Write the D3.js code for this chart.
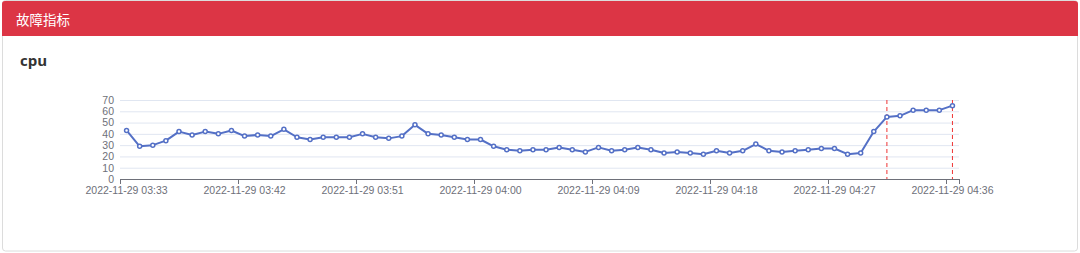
<!DOCTYPE html>
<html>
<head>
<meta charset="utf-8">
<script src="https://cdn.jsdelivr.net/npm/d3@7"></script>
<style>
  body { margin: 0; background: #fff; font-family: "Liberation Sans", Arial, sans-serif; }
</style>
</head>
<body>
<div id="chart"></div>
<script>
// categories (one per minute)
const times = [
  '03:33','03:34','03:35','03:36','03:37','03:38','03:39','03:40','03:41','03:42',
  '03:43','03:44','03:45','03:46','03:47','03:48','03:49','03:50','03:51','03:52',
  '03:53','03:54','03:55','03:56','03:57','03:58','03:59','04:00','04:01','04:02',
  '04:03','04:04','04:05','04:06','04:07','04:08','04:09','04:10','04:11','04:12',
  '04:13','04:14','04:15','04:16','04:17','04:18','04:19','04:20','04:21','04:22',
  '04:23','04:24','04:25','04:26','04:27','04:28','04:29','04:30','04:31','04:32',
  '04:33','04:34','04:35','04:36'
];
const categories = times.map(t => '2022-11-29 ' + t);

const cpuValues = [
  43, 29, 30, 34, 42, 39, 42, 40, 43, 38,
  39, 38, 44, 37, 35, 37, 37, 37, 40, 37,
  36, 38, 48, 40, 39, 37, 35, 35, 29, 26,
  25, 26, 26, 28, 26, 24, 28, 25, 26, 28,
  26, 23, 24, 23, 22, 25, 23, 25, 31, 25,
  24, 25, 26, 27, 27, 22, 23, 42, 55, 56,
  61, 61, 61, 65
];

const yTicks = [0, 10, 20, 30, 40, 50, 60, 70];
const markTimes = ['2022-11-29 04:31', '2022-11-29 04:36'];
const labelEvery = 9;

const width = 1080, height = 253;
const plot = { left: 120, right: 959, top: 100, bottom: 179 };

const svg = d3.select('#chart').append('svg')
  .attr('width', width)
  .attr('height', height);

// card
svg.append('rect')
  .attr('x', 2.5).attr('y', 0.5)
  .attr('width', 1075).attr('height', 250.5)
  .attr('rx', 3)
  .attr('fill', '#fff')
  .attr('stroke', '#dcdcdc');

svg.append('path')
  .attr('d', 'M2,36 V4 Q2,1 5,1 H1075 Q1078,1 1078,4 V36 Z')
  .attr('fill', '#dc3545');

svg.append('text')
  .attr('x', 16).attr('y', 24.5)
  .text('故障指标')
  .style('fill', '#fff')
  .style('font-family', '"Noto Sans CJK SC", sans-serif')
  .style('font-size', '13.5px');

svg.append('text')
  .attr('x', 20).attr('y', 66)
  .text('cpu')
  .style('fill', '#333')
  .style('font-family', '"Open Sans", "Noto Sans", sans-serif')
  .style('font-weight', 'bold')
  .style('font-size', '15px');

// scales
const xScale = d3.scaleBand()
  .domain(categories)
  .range([plot.left, plot.right])
  .padding(0);

const yScale = d3.scaleLinear()
  .domain([0, 70])
  .range([plot.bottom, plot.top]);

const xc = d => xScale(d) + xScale.bandwidth() / 2;

// grid
const yAxisGen = d3.axisLeft(yScale)
  .tickValues(yTicks)
  .tickSize(-(plot.right - plot.left))
  .tickPadding(6)
  .tickFormat(d3.format('d'));

const yAxis = svg.append('g')
  .attr('transform', `translate(${plot.left},0)`)
  .call(yAxisGen);
yAxis.select('.domain').remove();
yAxis.selectAll('line').attr('stroke', '#e0e6f1');
yAxis.selectAll('text')
  .style('fill', '#6e7079')
  .style('font-size', '10.5px')
  .style('font-family', '"Liberation Sans", Arial, sans-serif');

// x axis (category, ticks on band boundaries)
const tickCats = categories.filter((d, i) => i % labelEvery === 0);
const xAxis = svg.append('g');
xAxis.append('line')
  .attr('x1', plot.left).attr('x2', plot.right)
  .attr('y1', plot.bottom + 0.5).attr('y2', plot.bottom + 0.5)
  .attr('stroke', '#6e7079');
xAxis.selectAll('.tick')
  .data(tickCats.map(d => xScale(d)).concat([plot.right]))
  .join('line')
  .attr('x1', d => Math.round(d) + 0.5).attr('x2', d => Math.round(d) + 0.5)
  .attr('y1', plot.bottom).attr('y2', plot.bottom + 5)
  .attr('stroke', '#6e7079');
xAxis.selectAll('.lbl')
  .data(tickCats)
  .join('text')
  .attr('x', d => xc(d))
  .attr('y', plot.bottom + 14.5)
  .attr('text-anchor', 'middle')
  .text(d => d)
  .style('fill', '#6e7079')
  .style('font-size', '10.5px');

// mark lines
svg.selectAll('.mark')
  .data(markTimes)
  .join('line')
  .attr('x1', d => xc(d)).attr('x2', d => xc(d))
  .attr('y1', plot.top).attr('y2', plot.bottom)
  .attr('stroke', '#ee3333')
  .attr('stroke-dasharray', '4,3')
  .attr('stroke-width', 1);

// line
const lineGen = d3.line()
  .x((d, i) => xc(categories[i]))
  .y(d => yScale(d));

svg.append('path')
  .attr('d', lineGen(cpuValues))
  .attr('fill', 'none')
  .attr('stroke', '#5470c6')
  .attr('stroke-width', 2)
  .attr('stroke-linejoin', 'round');

svg.selectAll('.pt')
  .data(cpuValues)
  .join('circle')
  .attr('cx', (d, i) => xc(categories[i]))
  .attr('cy', d => yScale(d))
  .attr('r', 2)
  .attr('fill', '#fff')
  .attr('stroke', '#5470c6')
  .attr('stroke-width', 1.5);
</script>
</body>
</html>
